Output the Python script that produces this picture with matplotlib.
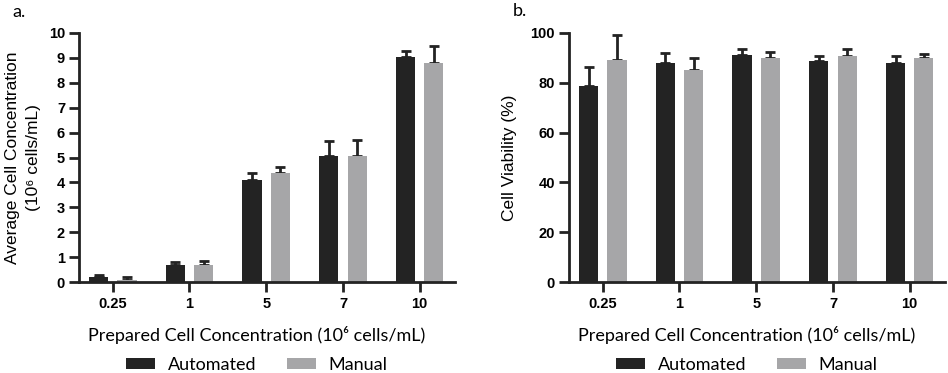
import numpy as np
import matplotlib
matplotlib.use('Agg')
import matplotlib.pyplot as plt

# data
categories = ['0.25', '1', '5', '7', '10']

conc_auto = [0.20, 0.67, 4.11, 5.05, 9.04]
conc_auto_err = [0.08, 0.13, 0.27, 0.60, 0.25]
conc_manual = [0.09, 0.67, 4.39, 5.05, 8.78]
conc_manual_err = [0.10, 0.16, 0.23, 0.67, 0.71]

via_auto = [78.6, 88.0, 91.0, 88.9, 88.1]
via_auto_err = [7.8, 4.1, 2.5, 1.9, 2.6]
via_manual = [89.0, 85.2, 90.1, 90.9, 90.1]
via_manual_err = [10.1, 4.8, 2.3, 2.8, 1.5]

dark = '#232323'
grey = '#a6a6a8'
soft = 'Lato'  # stands in for the rounded label font of the original

plt.rcParams['font.family'] = ['Liberation Sans', 'DejaVu Sans']

fig = plt.figure(figsize=(9.48, 3.73), dpi=100)
ax_a = fig.add_axes([79 / 948, 1 - 282 / 373, 376 / 948, 249 / 373])
ax_b = fig.add_axes([569 / 948, 1 - 282 / 373, 376 / 948, 249 / 373])


def draw_panel(ax, auto, auto_err, manual, manual_err, ymax, ystep, ylabel, ypad):
    x = np.arange(len(categories))
    w = 0.25
    off = 0.185
    ax.bar(x - off, auto, w, color=dark, label='Automated', zorder=2)
    ax.bar(x + off, manual, w, color=grey, label='Manual', zorder=2)
    # only the upper half of each error bar is shown
    ax.errorbar(x - off, auto, yerr=[np.zeros(len(auto)), auto_err], fmt='none',
                ecolor=dark, elinewidth=2, capsize=3.3, capthick=2, zorder=1)
    ax.errorbar(x + off, manual, yerr=[np.zeros(len(manual)), manual_err], fmt='none',
                ecolor=dark, elinewidth=2, capsize=3.3, capthick=2, zorder=1)
    ax.set_xlim(-0.44, 4.46)
    ax.set_ylim(0, ymax)
    ax.set_yticks(np.arange(0, ymax + ystep / 2, ystep))
    ax.set_xticks(x)
    ax.set_xticklabels(categories, fontweight='bold', fontsize=10.5)
    for lab in ax.get_yticklabels():
        lab.set_fontweight('bold')
        lab.set_fontsize(10.5)
    for side in ['top', 'right']:
        ax.spines[side].set_visible(False)
    for side in ['left', 'bottom']:
        ax.spines[side].set_linewidth(2)
        ax.spines[side].set_color(dark)
    ax.tick_params(axis='x', length=7, width=2, pad=4, color=dark)
    ax.tick_params(axis='y', length=7, width=2, pad=3, color=dark)
    ax.set_ylabel(ylabel, fontsize=12.5, linespacing=1.45, labelpad=ypad)
    ax.set_xlabel('Prepared Cell Concentration (10\u2076 cells/mL)',
                  fontfamily=soft, fontsize=13)
    ax.xaxis.set_label_coords(0.473, -53 / 249)
    ax.xaxis.label.set_va('center')
    ax.legend(loc='center', bbox_to_anchor=(0.473, -83 / 249), ncol=2, frameon=False,
              prop={'family': soft, 'size': 13},
              handlelength=1.6, handleheight=0.55, columnspacing=1.7, handletextpad=0.7)


draw_panel(ax_a, conc_auto, conc_auto_err, conc_manual, conc_manual_err, 10, 1,
           'Average Cell Concentration\n(10\u2076 cells/mL)', 6)
draw_panel(ax_b, via_auto, via_auto_err, via_manual, via_manual_err, 100, 20,
           'Cell Viability (%)', 10)

fig.text(12 / 948, 1 - 12 / 373, 'a.', fontsize=13, va='center', fontfamily=soft)
fig.text(513 / 948, 1 - 11 / 373, 'b.', fontsize=13, va='center', fontfamily=soft)

fig.savefig('out.png', dpi=100)
